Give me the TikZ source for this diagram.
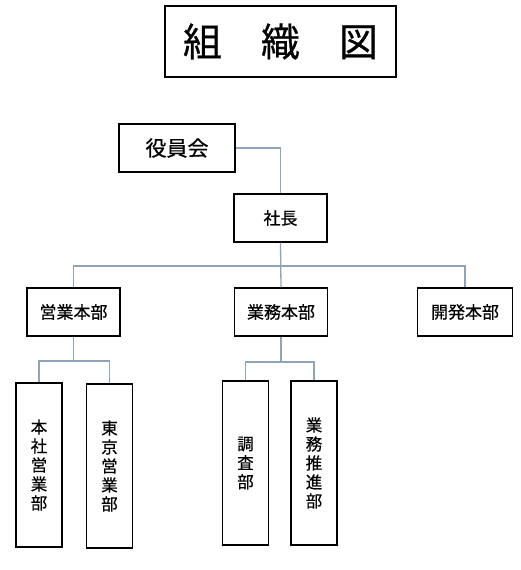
\documentclass[tikz,border=0pt]{standalone}
\usepackage{fontspec}
\setmainfont{Noto Sans CJK JP}[FakeBold=0.6]
\definecolor{linegray}{RGB}{143,163,187}
\begin{document}
\begin{tikzpicture}[x=1pt,y=-1pt,
    box/.style={draw,line width=1.2pt,inner sep=0pt,minimum width=93pt,minimum height=48pt,font=\fontsize{17}{20}\selectfont},
    vbox/.style={draw,line width=1.2pt,inner sep=0pt,minimum width=46pt,minimum height=164pt,align=center,font=\fontsize{16.5}{19}\selectfont},
    conn/.style={draw=linegray,line width=1.3pt}]
            \useasboundingbox (0,0) rectangle (520,570);
            \node[draw,line width=1.6pt,minimum width=231pt,minimum height=71pt,font=\fontsize{39}{42}\selectfont] (title) at (280.5,41.5) {組　織　図};
            \node[box,minimum width=116pt,font=\fontsize{21}{24}\selectfont] (yakuin) at (177,148) {役員会};
            \node[box] (shacho) at (280.5,218) {社長};
            \node[box] (eigyo) at (73.5,312) {営業本部};
            \node[box] (gyomu) at (281,312) {業務本部};
            \node[box,minimum width=95pt] (kaihatsu) at (465,312) {開発本部};
            \node[vbox] (honsha) at (39,465) {本\\社\\営\\業\\部};
            \node[vbox] (tokyo) at (109.5,466) {東\\京\\営\\業\\部};
            \node[vbox] (chosa) at (245.5,463) {調\\査\\部};
            \node[vbox] (suishin) at (314,463) {業\\務\\推\\進\\部};
            \coordinate (bus1) at (0,266);
            \coordinate (bus2) at (0,361);
            \coordinate (bus3) at (0,362);
            \draw[conn] (yakuin.east) -| (shacho.north);
            \draw[conn] (shacho.south) -- (gyomu.north);
            \draw[conn] (eigyo.north) |- (kaihatsu.north |- bus1) -- (kaihatsu.north);
            \draw[conn] (eigyo.south) -- (eigyo.south |- bus2);
            \draw[conn] (honsha.north) |- (tokyo.north |- bus2) -- (tokyo.north);
            \draw[conn] (gyomu.south) -- (gyomu.south |- bus3);
            \draw[conn] (chosa.north) |- (suishin.north |- bus3) -- (suishin.north);
\end{tikzpicture}
\end{document}
